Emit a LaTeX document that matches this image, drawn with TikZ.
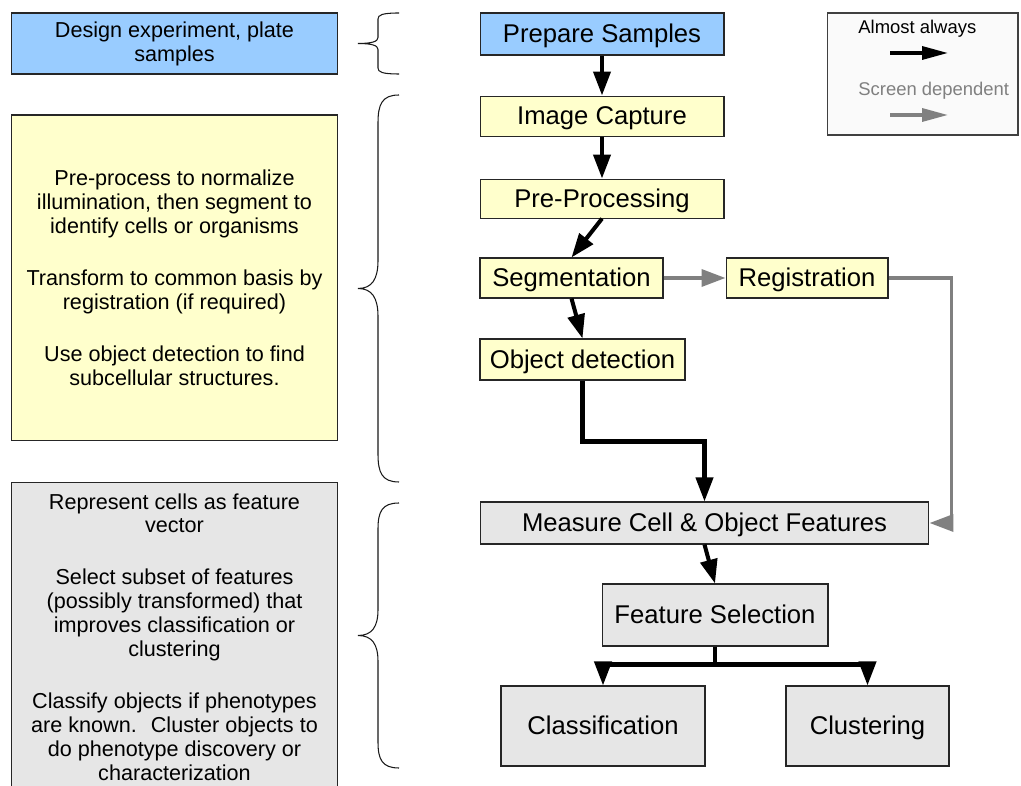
\documentclass[tikz,border=0pt]{standalone}
\usepackage{fontspec}
\setmainfont{Liberation Sans}
\usepackage{xcolor}
\usepackage{tikz}
\usetikzlibrary{positioning}
\usetikzlibrary{arrows.meta}
\tikzset{>={Triangle[length=4.8mm,width=3.4mm]}}
\definecolor{skyblue}{HTML}{99CCFF}
\definecolor{paleyellow}{HTML}{FFFFCC}
\definecolor{lightgrey}{HTML}{E6E6E6}
\definecolor{midgrey}{HTML}{808080}

\begin{document}
\begin{tikzpicture}[x=0.02cm, y=-0.02cm, box/.style={rectangle, draw=black!85, line width=0.6pt, inner sep=0pt, text height=10.5pt, text depth=0.5pt, font=\fontsize{14.6}{17}\selectfont}, bluenode/.style={box, fill=skyblue}, yellownode/.style={box, fill=paleyellow}, greynode/.style={box, fill=lightgrey}, sidenode/.style={rectangle, draw=black!85, line width=0.6pt, align=center, minimum width=6.54cm, font=\fontsize{12.3}{13.6}\selectfont}, legendtext/.style={inner sep=0pt, anchor=west, font=\fontsize{10.5}{12}\selectfont}, always/.style={->, line width=2.3pt, black}, screen/.style={->, line width=2pt, midgrey}, keyarrow/.style={-{Triangle[length=5.2mm,width=2.6mm]}, line width=1.9pt}, bracket/.style={line width=0.6pt, black!90}]

    \useasboundingbox (0,0) rectangle (1021,786);

    %Side notes
    \node[sidenode, fill=skyblue, minimum height=1.22cm](design) at (174.5,43.5){Design experiment, plate\\samples};
    \node[sidenode, fill=paleyellow, minimum height=6.52cm](imaging) at (174.5,278){Pre-process to normalize\\illumination, then segment to\\identify cells or organisms\\[16pt]Transform to common basis by\\registration (if required)\\[16pt]Use object detection to find\\subcellular structures.};
    \node[sidenode, fill=lightgrey, minimum height=6.2cm](analysis) at (174.5,637){Represent cells as feature\\vector\\[16pt]Select subset of features\\(possibly transformed) that\\improves classification or\\clustering\\[16pt]Classify objects if phenotypes\\are known.~ Cluster objects to\\do phenotype discovery or\\characterization};

    %Braces
    \foreach \t/\b/\c in {13/74/6, 95/482/28, 503/768/26}{
        \pgfmathsetmacro{\m}{(\t+\b)/2}
        \draw[bracket] (399,\t) .. controls (382,\t) and (378,\t+\c/3) .. (378,\t+\c) -- (378,\m-\c) .. controls (378,\m-\c/3) and (372,\m) .. (358,\m) .. controls (372,\m) and (378,\m+\c/3) .. (378,\m+\c) -- (378,\b-\c) .. controls (378,\b-\c/3) and (382,\b) .. (399,\b);
    }

    %Nodes
    \node[bluenode, minimum width=4.88cm, minimum height=0.84cm](prep) at (602,34){Prepare Samples};
    \node[yellownode, minimum width=4.88cm, minimum height=0.8cm](img)[below=0.8cm of prep]{Image Capture};
    \node[yellownode, minimum width=4.88cm, minimum height=0.78cm](pre)[below=0.84cm of img]{Pre-Processing};
    \node[yellownode, minimum width=3.66cm, minimum height=0.8cm](seg) at (571.5,278){Segmentation};
    \node[yellownode, minimum width=3.24cm, minimum height=0.8cm](reg)[right=1.24cm of seg]{Registration};
    \node[yellownode, minimum width=4.1cm, minimum height=0.82cm](obj) at (582.5,359.5){Object detection};
    \node[greynode, minimum width=8.98cm, minimum height=0.84cm](meas) at (704.5,523){Measure Cell \& Object Features};
    \node[greynode, minimum width=4.52cm, minimum height=1.24cm](feat) at (715,615){Feature Selection};
    \node[greynode, minimum width=4.08cm, minimum height=1.6cm](class) at (603,726){Classification};
    \node[greynode, minimum width=3.26cm, minimum height=1.6cm](clust) at (867.5,726){Clustering};

    %Legend
    \node[rectangle, draw=black!75, fill=black!2, line width=0.6pt, minimum width=3.82cm, minimum height=2.44cm](legend) at (922.5,74){};
    \node[legendtext](always_text) at (858,29){Almost always};
    \node[legendtext, text=midgrey](screen_text) at (858,91){Screen dependent};
    \coordinate (always_from) at (890,53);
    \coordinate (always_to) at (948,53);
    \coordinate (screen_from) at (890,115);
    \coordinate (screen_to) at (948,115);

    %Lines
    \draw[always] (prep.south) -- (img.north);
    \draw[always] (img.south) -- (pre.north);
    \draw[always] (pre.south) -- (seg.north);
    \draw[always] (seg.south) -- (obj.north);
    \draw[always] (obj.south) -- ++(0,61) -| (meas.north);
    \draw[always] (meas.south) -- (feat.north);
    \draw[always] (feat.south) -- ++(0,18) -| (class.north);
    \draw[always] (feat.south) -- ++(0,18) -| (clust.north);
    \draw[screen] (seg.east) -- (reg.west);
    \draw[screen] (reg.east) -- ++(63,0) |- (meas.east);
    \draw[keyarrow, black] (always_from) -- (always_to);
    \draw[keyarrow, midgrey] (screen_from) -- (screen_to);

\end{tikzpicture}
\end{document}
